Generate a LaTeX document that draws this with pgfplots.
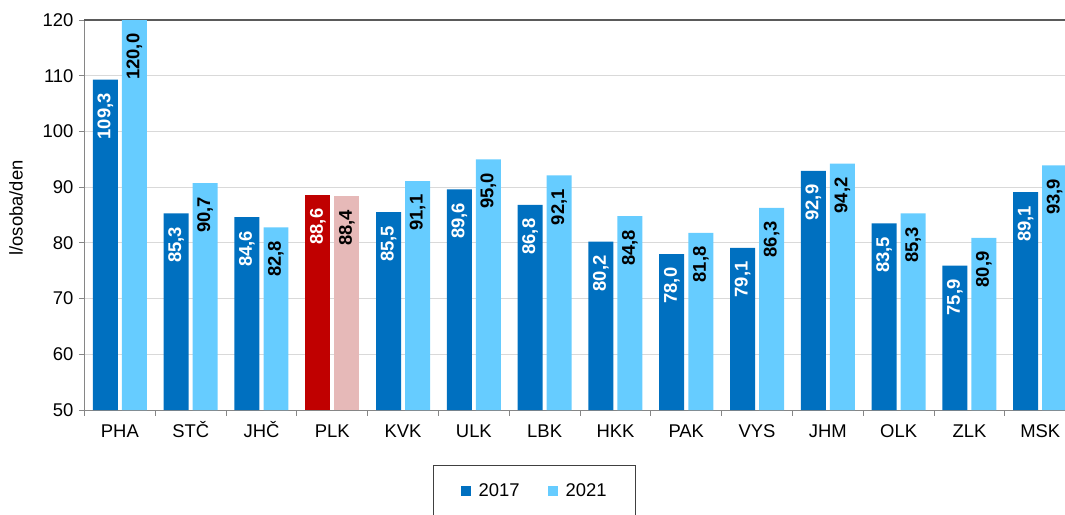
\documentclass[border=0pt]{standalone}
\usepackage{graphicx}
\usepackage{pgfplots}
\pgfplotsset{compat=1.18}
\usepackage{fontspec}
\setmainfont{Liberation Sans}
\definecolor{c17}{HTML}{0070C0}
\definecolor{c21}{HTML}{66CCFF}
\definecolor{cplkA}{HTML}{C00000}
\definecolor{cplkB}{HTML}{E6B9B8}
\definecolor{axgray}{HTML}{868686}
\definecolor{topgray}{HTML}{5A5A5A}
\definecolor{gridgray}{HTML}{D9D9D9}
\newcommand{\lblfont}{\fontsize{18.5}{22}\selectfont}
\newcommand{\barfont}{\fontsize{18.5}{22}\bfseries\selectfont}
\newcommand{\barlbl}{\rotatebox{90}{\pgfmathprintnumber[fixed,fixed zerofill,precision=1,use comma]{\pgfplotspointmeta}}}
\begin{document}
\begin{tikzpicture}
\useasboundingbox (-84.5bp,-105bp) rectangle (980.5bp,410bp);
\clip (-84.5bp,-105bp) rectangle (980.5bp,410bp);
\begin{scope}[overlay]
\begin{axis}[
  scale only axis, width=980.5bp, height=390bp,
  xmin=-0.5, xmax=13.35, ymin=50, ymax=120,
  axis x line*=bottom, axis y line*=left,
  clip=false,
  ytick={50,60,...,120},
  ymajorgrids, grid style={gridgray, line width=1bp},
  xtick={0,...,13},
  xticklabels={PHA,STČ,JHČ,PLK,KVK,ULK,LBK,HKK,PAK,VYS,JHM,OLK,ZLK,MSK},
  minor xtick={-0.5,0.5,...,12.5},
  major x tick style={draw=none},
  tick align=outside, major tick length=5.5bp, minor tick length=5.5bp,
  axis line style={axgray, line width=1bp},
  every tick/.style={axgray, line width=1bp},
  /pgf/number format/assume math mode=true,
  yticklabel style={font=\lblfont, xshift=-2bp},
  xticklabel style={font=\lblfont, anchor=north, text height=13.5bp, text depth=0pt, yshift=-5bp},
  ylabel={l/osoba/den},
  every axis y label/.style={at={(axis description cs:-0.0699,0.518)}, rotate=90, anchor=center, font=\lblfont},
  legend style={at={(axis description cs:0.459,-0.141)}, anchor=north,
    draw=black!75, line width=1bp, font=\lblfont, legend columns=2,
    inner xsep=27bp, inner ysep=16bp,
    /tikz/every odd column/.append style={column sep=6bp},
    /tikz/every even column/.append style={column sep=26bp}},
  legend image code/.code={\fill[#1,draw=none] (0bp,-5bp) rectangle (10bp,5bp);},
]
\draw[topgray, line width=1.5bp] (rel axis cs:0,1) -- (rel axis cs:1.02,1);
\addplot[ybar, bar width=0.353, bar shift=-0.205, fill=c17, draw=none,
  nodes near coords={\barlbl},
  every node near coord/.append style={white, anchor=north, xshift=-14.5bp, inner ysep=13.5bp, inner xsep=0pt, font=\barfont}]
  coordinates {(0,109.3) (1,85.3) (2,84.6) (4,85.5) (5,89.6) (6,86.8) (7,80.2) (8,78.0) (9,79.1) (10,92.9) (11,83.5) (12,75.9) (13,89.1)};
\addlegendentry{2017}
\addplot[ybar, bar width=0.353, bar shift=0.205, fill=c21, draw=none,
  nodes near coords={\barlbl},
  every node near coord/.append style={black, anchor=north, xshift=14.5bp, inner ysep=13.5bp, inner xsep=0pt, font=\barfont}]
  coordinates {(0,120.0) (1,90.7) (2,82.8) (4,91.1) (5,95.0) (6,92.1) (7,84.8) (8,81.8) (9,86.3) (10,94.2) (11,85.3) (12,80.9) (13,93.9)};
\addlegendentry{2021}
\addplot[forget plot, ybar, bar width=0.353, bar shift=-0.205, fill=cplkA, draw=none,
  nodes near coords={\barlbl},
  every node near coord/.append style={white, anchor=north, xshift=-14.5bp, inner ysep=13.5bp, inner xsep=0pt, font=\barfont}]
  coordinates {(3,88.6)};
\addplot[forget plot, ybar, bar width=0.353, bar shift=0.205, fill=cplkB, draw=none,
  nodes near coords={\barlbl},
  every node near coord/.append style={black, anchor=north, xshift=14.5bp, inner ysep=13.5bp, inner xsep=0pt, font=\barfont}]
  coordinates {(3,88.4)};
\end{axis}
\end{scope}
\end{tikzpicture}
\end{document}
